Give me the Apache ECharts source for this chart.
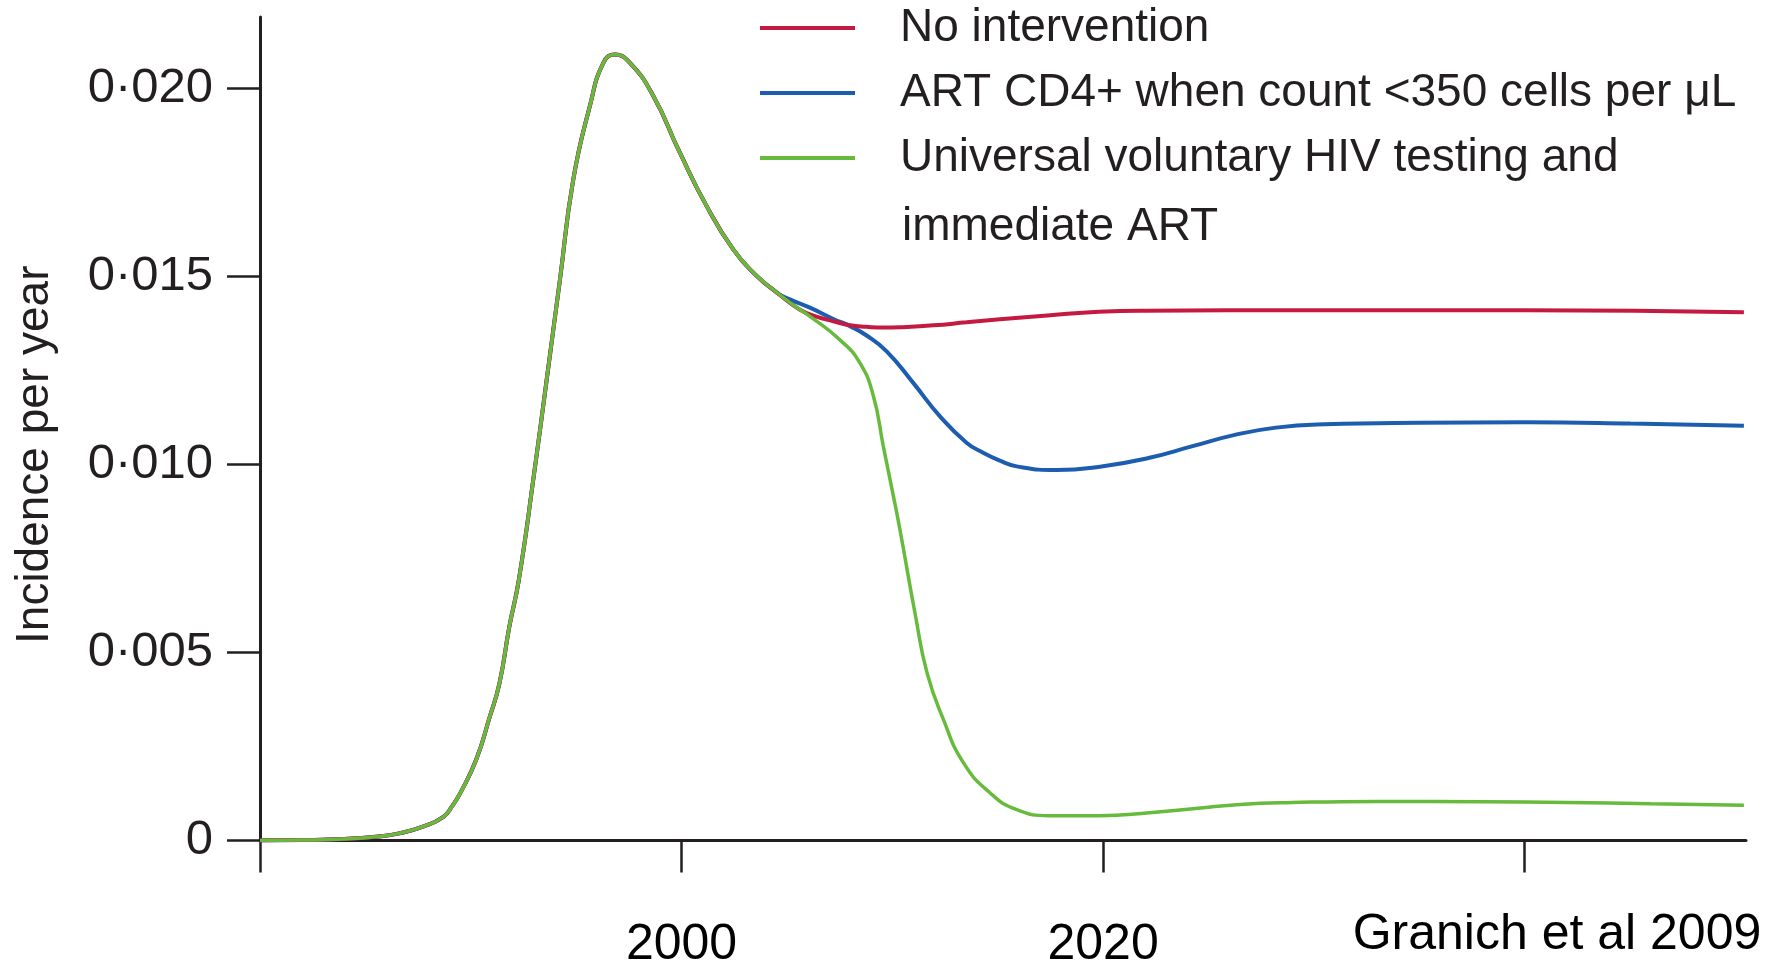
<!DOCTYPE html>
<html>
<head>
<meta charset="utf-8">
<script src="https://cdn.jsdelivr.net/npm/echarts@6/dist/echarts.min.js"></script>
<style>
html,body{margin:0;padding:0;background:#ffffff;}
#chart{width:1781px;height:963px;}
</style>
</head>
<body>
<div id="chart"></div>
<script>
// ---- Data ----
const seriesNames = [
  'No intervention',
  'ART CD4+ when count <350 cells per \u03bcL',
  'Universal voluntary HIV testing and immediate ART'
];

// Shared epidemic curve (all three scenarios identical until ~2004)
const sharedYears  = [1980, 1982, 1984, 1985.5, 1986.6, 1987.8, 1988.7, 1989.1, 1989.5, 1990.25, 1990.9, 1991.36, 1991.83, 1992.28, 1993.0, 1993.6, 1994.23, 1994.86, 1995.65, 1996.29, 1996.84, 1997.55, 1998.66, 1999.92, 2001.19, 2002.45, 2003.5, 2004.5];
const sharedValues = [0, 0.00001, 0.00004, 0.0001, 0.00019, 0.00038, 0.00063, 0.0009, 0.00126, 0.00214, 0.00329, 0.00418, 0.00569, 0.00693, 0.00974, 0.01225, 0.01491, 0.01757, 0.01953, 0.02068, 0.0209, 0.02068, 0.0198, 0.01829, 0.01687, 0.01572, 0.01505, 0.01458];

const redYears  = [2005.6, 2006.4, 2007.2, 2007.99, 2008.78, 2009.57, 2010.36, 2011.94, 2013.52, 2015.1, 2017.5, 2019.8, 2022, 2030, 2040, 2050.4];
const redValues = [0.01412, 0.01393, 0.01381, 0.0137, 0.01366, 0.01364, 0.01365, 0.0137, 0.01378, 0.01386, 0.01397, 0.01406, 0.01409, 0.0141, 0.0141, 0.01405];

const blueYears  = [2005.14, 2006.09, 2007.2, 2007.99, 2008.78, 2009.73, 2010.99, 2012.26, 2013.52, 2014.31, 2015.1, 2015.9, 2017.79, 2019.85, 2022.2, 2024.2, 2026.2, 2028.2, 2030.5, 2035, 2040, 2045, 2050.4];
const blueValues = [0.01439, 0.01417, 0.01387, 0.01368, 0.01343, 0.01301, 0.01217, 0.01128, 0.01058, 0.01031, 0.0101, 0.00995, 0.00985, 0.00994, 0.01018, 0.01048, 0.01078, 0.01098, 0.01107, 0.01111, 0.01112, 0.01109, 0.01103];

const greenYears  = [2005.4, 2006.09, 2007.5, 2008.46, 2009.1, 2009.57, 2010.05, 2010.36, 2011.1, 2011.65, 2012.42, 2013.37, 2014.63, 2015.9, 2017.47, 2019.85, 2022.2, 2024.5, 2026.5, 2029, 2033, 2038, 2042, 2046, 2050.4];
const greenValues = [0.0142, 0.01394, 0.01332, 0.0127, 0.01182, 0.01049, 0.00916, 0.00827, 0.00597, 0.00445, 0.00322, 0.00207, 0.00127, 0.00082, 0.00066, 0.00066, 0.00074, 0.00086, 0.00096, 0.00101, 0.00104, 0.00103, 0.00101, 0.00098, 0.00094];

const xTickValues  = [1980, 2000, 2020, 2040];
const xLabelValues = [2000, 2020];
const yTickValues  = [0, 0.005, 0.010, 0.015, 0.020];

const sourceNote = 'Granich et al 2009';
const yAxisTitle = 'Incidence per year';

// ---- Build ----
function pairs(ys, vs) {
  return ys.map((y, i) => [y, vs[i]]);
}
const redData   = pairs(sharedYears.concat(redYears),   sharedValues.concat(redValues));
const blueData  = pairs(sharedYears.concat(blueYears),  sharedValues.concat(blueValues));
const greenData = pairs(sharedYears.concat(greenYears), sharedValues.concat(greenValues));

const INK = '#231f20';
const FONT = "'Liberation Sans', Arial, sans-serif";
const colors = { red: '#c41a42', blue: '#1c5db0', green: '#66bb3c' };

function lineSeries(name, data, color, width) {
  return {
    name: name,
    type: 'line',
    data: data,
    symbol: 'none',
    showSymbol: false,
    smooth: 0.5,
    lineStyle: { width: width, color: color },
    itemStyle: { color: color },
    z: 3
  };
}

const chart = echarts.init(document.getElementById('chart'), null, { renderer: 'canvas' });
chart.setOption({
  animation: false,
  backgroundColor: '#ffffff',
  grid: { left: 260, right: 35, top: 17, bottom: 122.5, containLabel: false, outerBoundsMode: 'none' },
  legend: {
    orient: 'vertical',
    left: 755,
    top: 0,
    icon: 'rect',
    itemWidth: 95,
    itemHeight: 4,
    itemGap: 19,
    data: seriesNames,
    selectedMode: false,
    formatter: function (name) {
      return name === seriesNames[2] ? 'Universal voluntary HIV testing and' : name;
    },
    textStyle: {
      fontSize: 46,
      lineHeight: 46,
      color: INK,
      fontFamily: FONT,
      padding: [0, 0, 0, 40]
    }
  },
  xAxis: {
    type: 'value',
    min: 1980,
    max: 2050.5,
    axisLine: { show: true, onZero: false, lineStyle: { color: INK, width: 3 } },
    axisTick: { show: true, length: 32, lineStyle: { color: INK, width: 2.5 }, customValues: xTickValues },
    axisLabel: {
      customValues: xLabelValues,
      margin: 80,
      fontSize: 50,
      color: '#000000',
      fontFamily: FONT,
      formatter: function (v) { return String(v); }
    },
    splitLine: { show: false }
  },
  yAxis: {
    type: 'value',
    min: 0,
    max: 0.0219,
    name: yAxisTitle,
    nameLocation: 'middle',
    nameGap: 202,
    nameRotate: 90,
    nameTextStyle: { fontSize: 46, color: INK, fontFamily: FONT, padding: [0, 52, 0, 0] },
    axisLine: { show: true, lineStyle: { color: INK, width: 3 } },
    axisTick: { show: true, length: 33, lineStyle: { color: INK, width: 2.5 }, customValues: yTickValues },
    axisLabel: {
      customValues: yTickValues,
      margin: 47,
      fontSize: 49,
      color: INK,
      fontFamily: FONT,
      formatter: function (v) { return v === 0 ? '0' : v.toFixed(3).replace('.', '\u00b7'); }
    },
    splitLine: { show: false }
  },
  graphic: [
    {
      type: 'text',
      x: 902,
      y: 227,
      style: { text: 'immediate ART', font: "46px 'Liberation Sans', Arial, sans-serif", fill: INK, textVerticalAlign: 'middle', verticalAlign: 'middle' }
    },
    {
      type: 'text',
      x: 1557,
      y: 935,
      style: { text: sourceNote, font: "50px 'Liberation Sans', Arial, sans-serif", fill: '#000000', align: 'center', textAlign: 'center', verticalAlign: 'middle', textVerticalAlign: 'middle' }
    }
  ],
  series: [
    lineSeries(seriesNames[1], blueData, colors.blue, 4),
    lineSeries(seriesNames[0], redData, colors.red, 4),
    lineSeries(seriesNames[2], greenData, colors.green, 3.5)
  ]
});
</script>
</body>
</html>
